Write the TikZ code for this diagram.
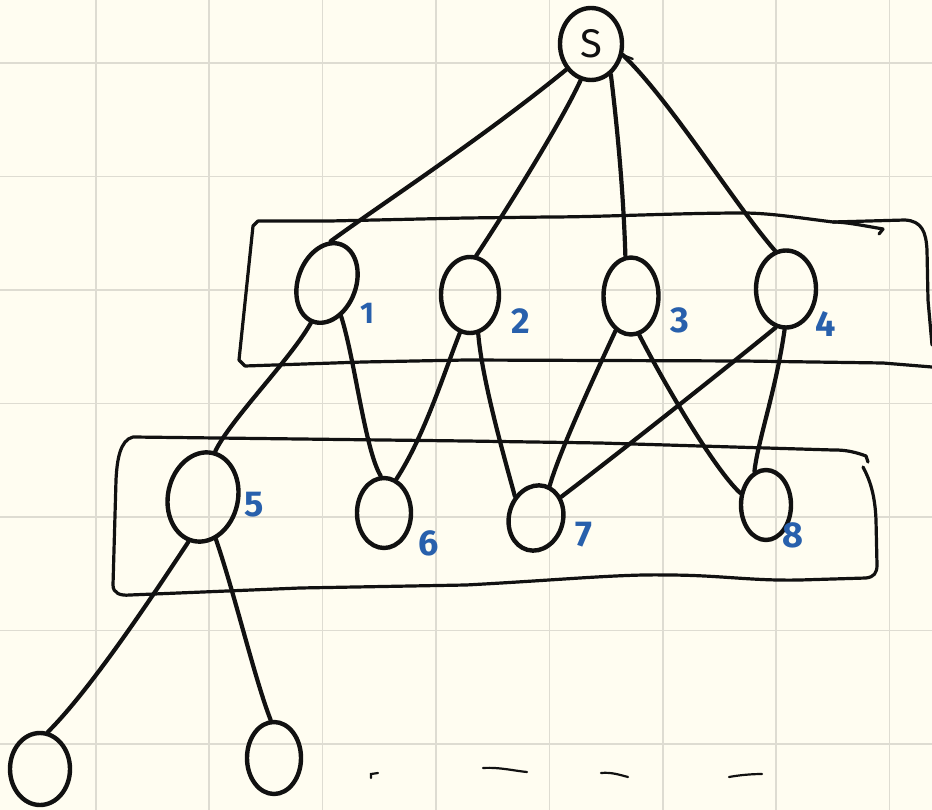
\documentclass[tikz,border=0pt]{standalone}
\usepackage{fontspec}
\setmainfont{Fira Sans}
\usetikzlibrary{shapes.geometric}
\definecolor{paper}{RGB}{255,253,241}
\definecolor{gridc}{RGB}{222,220,210}
\definecolor{ink}{RGB}{17,17,17}
\definecolor{pen}{RGB}{40,96,172}
\begin{document}
\begin{tikzpicture}[x=1pt,y=-1pt,
  vert/.style={ellipse, draw=ink, line width=4.4pt, inner sep=0pt, text=ink,
    font=\fontsize{40}{40}\selectfont},
  edge/.style={draw=ink, line width=4.2pt, line cap=round, line join=round},
  frame/.style={draw=ink, line width=3.2pt, line cap=round, line join=round},
  lbl/.style={text=pen, inner sep=0pt, font=\fontsize{36}{36}\selectfont\bfseries},
  scribble/.style={draw=ink, line width=2.2pt, line cap=round}]
\fill[paper] (0,0) rectangle (932,810);
\useasboundingbox (0,0) rectangle (932,810);
\foreach \gx in {95.7,209.1,322.5,435.9,549.3,662.7,776.1,889.5}
  \draw[gridc, line width=1.6pt] (\gx,0) -- (\gx,810);
\foreach \gy in {63.3,176.7,290.1,403.5,516.9,630.3,743.7}
  \draw[gridc, line width=1.6pt] (0,\gy) -- (932,\gy);

% frames
\draw[frame] (883,229) .. controls (860,225) and (845,222) .. (833,222) .. controls (800,218) and (770,213) .. (743,213)
  .. controls (680,213) and (600,217) .. (549,217) -- (466,218) -- (330,221) -- (258,221)
  -- (253,226) -- (239,360) -- (245,366) -- (363,362) -- (466,360) -- (743,361) -- (883,363) -- (932,367);
\draw[frame] (883,229) -- (879,234);
\draw[frame] (833,222) -- (905,220) .. controls (922,221) and (926,232) .. (927,250) -- (928,300) -- (932,345);

\draw[frame] (866,456) .. controls (850,450) and (840,450) .. (833,450) -- (600,443) -- (466,441) -- (300,439) -- (133,437)
  .. controls (120,440) and (117,460) .. (116,480) -- (113,585) .. controls (113,593) and (120,596) .. (130,595)
  -- (300,588) -- (466,585) .. controls (560,580) and (620,574) .. (666,575) .. controls (720,575) and (750,581) .. (800,580) -- (866,578)
  .. controls (874,577) and (877,573) .. (877,565) -- (876,520) .. controls (875,495) and (870,480) .. (863,467);
\draw[frame] (866,456) -- (868,462);

% vertices
\node[vert, minimum width=62pt, minimum height=72pt] (S) at (591,44) {S};
\node[vert, minimum width=58pt, minimum height=82pt, rotate=-20] (n1) at (327,283) {};
\node[vert, minimum width=58pt, minimum height=76pt] (n2) at (470,295) {};
\node[vert, minimum width=55pt, minimum height=77pt] (n3) at (631,296) {};
\node[vert, minimum width=60pt, minimum height=77pt] (n4) at (786,289) {};
\node[vert, minimum width=70pt, minimum height=90pt, rotate=-12] (n5) at (203,497) {};
\node[vert, minimum width=54pt, minimum height=70pt] (n6) at (384,513) {};
\node[vert, minimum width=54pt, minimum height=66pt, rotate=-15] (n7) at (536,518) {};
\node[vert, minimum width=50pt, minimum height=70pt] (n8) at (766,505) {};
\node[vert, minimum width=60pt, minimum height=72pt] (na) at (40,769) {};
\node[vert, minimum width=54pt, minimum height=72pt] (nb) at (274,758) {};

% labels
\node[lbl, font=\fontsize{30}{30}\selectfont\bfseries] (l1) at (367,313) {1};
\node[lbl] (l2) at (521,321) {2};
\node[lbl] (l3) at (680,320) {3};
\node[lbl] (l4) at (826,324) {4};
\node[lbl] (l5) at (254,505) {5};
\node[lbl] (l6) at (429,543) {6};
\node[lbl] (l7) at (584,535) {7};
\node[lbl] (l8) at (793,535) {8};

% edges
\draw[edge] (S.226) .. controls (480,140) and (380,205) .. (n1.105);
\draw[edge] (S.254) .. controls (560,125) and (500,220) .. (n2.81);
\draw[edge] (S.303) .. controls (620,150) and (624,210) .. (n3.98);
\draw[edge] (S.341) .. controls (670,100) and (735,205) .. (n4.106);
\draw[scribble] (S.341) -- ++(10,4);
\draw[edge] (n1.268) .. controls (290,360) and (230,420) .. (n5.87);
\draw[edge] (n1.313) .. controls (355,360) and (365,450) .. (n6.95);
\draw[edge] (n2.255) .. controls (445,370) and (425,435) .. (n6.70);
\draw[edge] (n2.282) .. controls (482,380) and (505,460) .. (n7.149);
\draw[edge] (n3.246) .. controls (595,375) and (560,450) .. (n7.82);
\draw[edge] (n3.282) .. controls (665,385) and (715,470) .. (n8.155);
\draw[edge] (n4.255) .. controls (730,365) and (610,460) .. (n7.55);
\draw[edge] (n4.268) .. controls (776,390) and (758,440) .. (n8.109);
\draw[edge] (n5.264) .. controls (150,600) and (90,690) .. (na.78);
\draw[edge] (n5.299) .. controls (235,595) and (255,680) .. (nb.95);

% trailing marks
\draw[scribble] (371,778) -- (371,774) -- (378,773);
\draw[scribble] (483,768) .. controls (500,767) and (515,771) .. (527,772);
\draw[scribble] (601,773) .. controls (612,772) and (620,775) .. (628,777);
\draw[scribble] (729,777) .. controls (740,775) and (752,774) .. (762,774);
\end{tikzpicture}
\end{document}
